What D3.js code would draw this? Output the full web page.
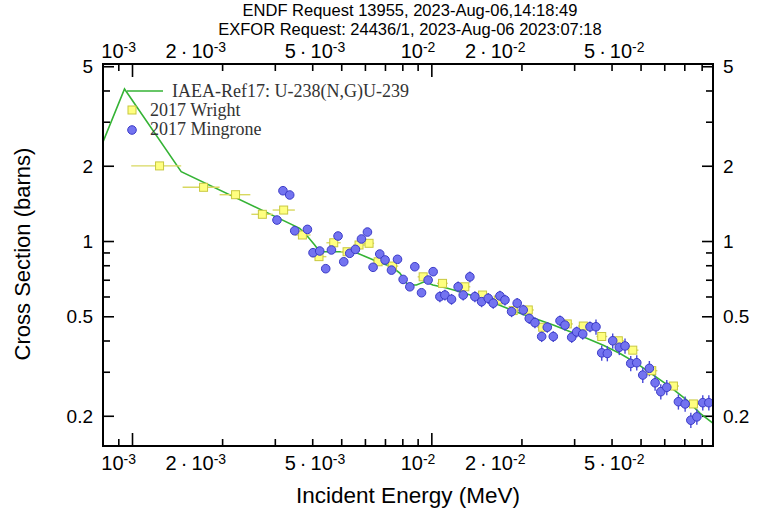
<!DOCTYPE html>
<html>
<head>
<meta charset="utf-8">
<script src="https://cdn.jsdelivr.net/npm/d3@7"></script>
<style>
body { margin: 0; background: #fff; }
svg { display: block; }
</style>
</head>
<body>
<svg id="chart" width="759" height="509"></svg>
<script>
// IAEA-Ref17 evaluation, U-238(n,g)
const refE = [8e-4, 9.44e-4, 1.46e-3, 3.633e-3, 3.824e-3, 4.077e-3, 4.237e-3, 4.637e-3, 5.204e-3, 5.62e-3, 6.07e-3, 6.62e-3, 7.36e-3, 7.85e-3, 8.345e-3, 8.92e-3, 9.51e-3, 1.012e-2, 1.124e-2, 1.245e-2, 1.53e-2, 1.977e-2, 2.555e-2, 3.304e-2, 3.755e-2, 4.27e-2, 4.856e-2, 5.52e-2, 6.28e-2, 7.14e-2, 7.91e-2, 8.74e-2]
const refS = [2.49, 4.057, 1.895, 1.124, 1.057, 0.964, 0.906, 0.906, 0.906, 0.898, 0.863, 0.826, 0.789, 0.744, 0.667, 0.667, 0.688, 0.667, 0.649, 0.627, 0.581, 0.514, 0.461, 0.408, 0.383, 0.355, 0.324, 0.291, 0.261, 0.231, 0.2045, 0.1864]

// 2017 Wright (energy, cross section, energy bin low/high)
const wrightE = [1.236e-3, 1.734e-3, 2.218e-3, 2.726e-3, 3.211e-3, 3.709e-3, 4.214e-3, 4.72e-3, 5.23e-3, 5.734e-3, 6.194e-3, 6.64e-3, 7.42e-3, 9.39e-3, 1.09e-2, 1.294e-2, 1.483e-2, 1.673e-2, 1.877e-2, 2.108e-2, 2.355e-2, 2.846e-2, 3.219e-2, 3.709e-2, 4.214e-2, 4.71e-2, 5.45e-2, 6.44e-2, 7.51e-2]
const wrightS = [1.997, 1.640, 1.532, 1.279, 1.330, 1.057, 0.866, 0.984, 0.906, 0.964, 0.979, 0.826, 0.794, 0.719, 0.677, 0.656, 0.608, 0.581, 0.527, 0.530, 0.452, 0.466, 0.457, 0.415, 0.399, 0.366, 0.303, 0.263, 0.223]
const wrightLo = [0.994e-3, 1.476e-3, 1.962e-3, 2.505e-3, 2.95e-3, 3.5e-3, 3.98e-3, 4.46e-3, 4.98e-3, 5.48e-3, 5.95e-3, 6.4e-3, 7.1e-3, 9.0e-3, 1.045e-2, 1.24e-2, 1.42e-2, 1.6e-2, 1.8e-2, 2.02e-2, 2.26e-2, 2.73e-2, 3.09e-2, 3.56e-2, 4.04e-2, 4.52e-2, 5.23e-2, 6.18e-2, 7.21e-2]
const wrightHi = [1.46e-3, 1.962e-3, 2.485e-3, 2.95e-3, 3.5e-3, 3.95e-3, 4.46e-3, 4.98e-3, 5.48e-3, 6.0e-3, 6.44e-3, 6.9e-3, 7.75e-3, 9.8e-3, 1.135e-2, 1.35e-2, 1.55e-2, 1.75e-2, 1.96e-2, 2.2e-2, 2.46e-2, 2.97e-2, 3.36e-2, 3.87e-2, 4.4e-2, 4.92e-2, 5.69e-2, 6.72e-2, 7.84e-2]

// 2017 Mingrone (energy, cross section, relative uncertainty)
const mingE = [3.05e-3, 3.194e-3, 3.364e-3, 3.496e-3, 3.855e-3, 4.025e-3, 4.237e-3, 4.438e-3, 4.637e-3, 4.879e-3, 5.098e-3, 5.338e-3, 5.578e-3, 5.842e-3, 6.117e-3, 6.388e-3, 6.725e-3, 7.005e-3, 7.36e-3, 7.709e-3, 8.05e-3, 8.475e-3, 8.807e-3, 9.273e-3, 9.757e-3, 1.014e-2,
    1.068e-2, 1.11e-2, 1.168e-2, 1.229e-2, 1.278e-2, 1.345e-2, 1.398e-2, 1.472e-2, 1.549e-2, 1.61e-2, 1.695e-2, 1.762e-2, 1.854e-2, 1.936e-2, 2.028e-2, 2.124e-2, 2.219e-2, 2.337e-2, 2.44e-2, 2.555e-2, 2.691e-2, 2.796e-2, 2.944e-2, 3.059e-2, 3.204e-2, 3.389e-2,
    3.549e-2, 3.709e-2, 3.873e-2, 4.036e-2, 4.246e-2, 4.437e-2, 4.636e-2, 4.856e-2, 5.086e-2, 5.351e-2, 5.592e-2, 5.843e-2, 6.118e-2, 6.69e-2, 7.046e-2, 7.362e-2, 7.71e-2, 8.07e-2, 8.455e-2]
const mingS = [1.213, 1.589, 1.528, 1.099, 1.113, 0.898, 0.912, 0.775, 0.921, 1.047, 0.826, 0.893, 0.926, 1.019, 1.086, 0.785, 0.887, 0.840, 0.765, 0.845, 0.702, 0.656, 0.789, 0.621, 0.698, 0.754,
    0.599, 0.608, 0.585, 0.656, 0.608, 0.719, 0.599, 0.572, 0.590, 0.564, 0.603, 0.581, 0.522, 0.564, 0.530, 0.490, 0.4715, 0.415, 0.452, 0.415, 0.480, 0.461, 0.412, 0.433, 0.4245, 0.454,
    0.454, 0.357, 0.355, 0.399, 0.376, 0.3805, 0.324, 0.326, 0.291, 0.3096, 0.271, 0.2497, 0.260, 0.2276, 0.223, 0.192, 0.198, 0.2256, 0.2256]
const mingErr = [0.03, 0.03, 0.03, 0.03, 0.03, 0.03, 0.03, 0.03, 0.03, 0.03, 0.03, 0.03, 0.03, 0.03, 0.03, 0.03, 0.03, 0.03, 0.03, 0.03, 0.03, 0.03, 0.03, 0.03, 0.03, 0.03,
    0.05, 0.05, 0.05, 0.05, 0.05, 0.05, 0.05, 0.05, 0.05, 0.05, 0.05, 0.05, 0.05, 0.05, 0.05, 0.05, 0.05, 0.05, 0.05, 0.05, 0.05, 0.05, 0.05, 0.05, 0.05, 0.05,
    0.07, 0.07, 0.07, 0.07, 0.07, 0.07, 0.07, 0.07, 0.07, 0.07, 0.07, 0.07, 0.07, 0.07, 0.07, 0.07, 0.07, 0.07, 0.07]

// axis ticks
const xDecades = [1e-3, 1e-2]
const xMinor = [9e-4, 2e-3, 3e-3, 4e-3, 5e-3, 6e-3, 7e-3, 8e-3, 9e-3, 2e-2, 3e-2, 4e-2, 5e-2, 6e-2, 7e-2, 8e-2]
const xLabels = [[1e-3, "10", "-3"], [2e-3, "2\u2009·\u200910", "-3"], [5e-3, "5\u2009·\u200910", "-3"], [1e-2, "10", "-2"], [2e-2, "2\u2009·\u200910", "-2"], [5e-2, "5\u2009·\u200910", "-2"]]
const yMajor = [0.2, 0.5, 1, 2, 5]
const yMinor = [0.3, 0.4, 0.6, 0.7, 0.8, 0.9, 3, 4]
const yLabels = ["0.2", "0.5", "1", "2", "5"]

const plotL = 103, plotR = 713, plotT = 64, plotB = 446
const green = "#35b335"
const sans = "'Liberation Sans', Arial, sans-serif"

const svg = d3.select("#chart")
const x = d3.scaleLog().domain([8e-4, 0.0873]).range([plotL, plotR])
const y = d3.scaleLog().domain([0.1514, 5.105]).range([plotB, plotT])

svg.append("clipPath").attr("id", "clip")
    .append("rect")
    .attr("x", plotL).attr("y", plotT)
    .attr("width", plotR - plotL).attr("height", plotB - plotT)

// titles
svg.append("text")
    .attr("x", 410).attr("y", 16)
    .attr("text-anchor", "middle")
    .style("font", "16.5px " + sans)
    .text("ENDF Request 13955, 2023-Aug-06,14:18:49")
svg.append("text")
    .attr("x", 410).attr("y", 35)
    .attr("text-anchor", "middle")
    .style("font", "16.5px " + sans)
    .text("EXFOR Request: 24436/1, 2023-Aug-06 2023:07:18")

// ticks on all four sides, pointing inward
svg.append("g").attr("transform", `translate(0,${plotB})`)
    .call(d3.axisBottom(x).tickValues(xMinor).tickSize(-7).tickFormat(""))
svg.append("g").attr("transform", `translate(0,${plotB})`)
    .call(d3.axisBottom(x).tickValues(xDecades).tickSize(-13).tickFormat(""))
svg.append("g").attr("transform", `translate(0,${plotT})`)
    .call(d3.axisTop(x).tickValues(xMinor).tickSize(-7).tickFormat(""))
svg.append("g").attr("transform", `translate(0,${plotT})`)
    .call(d3.axisTop(x).tickValues(xDecades).tickSize(-13).tickFormat(""))
svg.append("g").attr("transform", `translate(${plotL},0)`)
    .call(d3.axisLeft(y).tickValues(yMinor).tickSize(-7).tickFormat(""))
svg.append("g").attr("transform", `translate(${plotL},0)`)
    .call(d3.axisLeft(y).tickValues(yMajor).tickSize(-11).tickFormat(""))
svg.append("g").attr("transform", `translate(${plotR},0)`)
    .call(d3.axisRight(y).tickValues(yMinor).tickSize(-7).tickFormat(""))
svg.append("g").attr("transform", `translate(${plotR},0)`)
    .call(d3.axisRight(y).tickValues(yMajor).tickSize(-11).tickFormat(""))
svg.selectAll(".domain").remove()
svg.selectAll(".tick line").attr("stroke", "#000").attr("stroke-width", 1.6)

// x tick labels, top and bottom: "2·10^-3" style
for (const yy of [58, 470]) {
    const t = svg.append("g").selectAll("text")
        .data(xLabels)
        .enter()
        .append("text")
        .attr("x", d => x(d[0]) + 4)
        .attr("y", yy)
        .attr("text-anchor", "end")
        .style("font", "20px " + sans)
    t.append("tspan").text(d => d[1])
    t.append("tspan").attr("dy", -6).style("font-size", "14px").text(d => d[2])
}

// y tick labels, left and right
svg.append("g").selectAll("text")
    .data(yMajor)
    .enter()
    .append("text")
    .attr("x", 93)
    .attr("y", d => y(d) + 7)
    .attr("text-anchor", "end")
    .style("font", "19px " + sans)
    .text((d, i) => yLabels[i])
svg.append("g").selectAll("text")
    .data(yMajor)
    .enter()
    .append("text")
    .attr("x", 723)
    .attr("y", d => y(d) + 7)
    .style("font", "19px " + sans)
    .text((d, i) => yLabels[i])

// axis titles
svg.append("text")
    .attr("x", 408).attr("y", 503)
    .attr("text-anchor", "middle")
    .style("font", "22.5px " + sans)
    .text("Incident Energy (MeV)")
svg.append("text")
    .attr("transform", "translate(30,254) rotate(-90)")
    .attr("text-anchor", "middle")
    .style("font", "22px " + sans)
    .text("Cross Section (barns)")

const plot = svg.append("g").attr("clip-path", "url(#clip)")

// evaluation curve
const refData = refE.map((e, i) => [e, refS[i]])
plot.append("path")
    .datum(refData)
    .attr("fill", "none")
    .attr("stroke", green)
    .attr("stroke-width", 1.6)
    .attr("d", d3.line().x(d => x(d[0])).y(d => y(d[1])))

// Wright: horizontal error bars + yellow squares
const wright = wrightE.map((e, i) => ({ e: e, s: wrightS[i], lo: wrightLo[i], hi: wrightHi[i] }))
plot.selectAll("line.werr")
    .data(wright)
    .enter()
    .append("line")
    .attr("class", "werr")
    .attr("x1", d => x(d.lo)).attr("x2", d => x(d.hi))
    .attr("y1", d => y(d.s)).attr("y2", d => y(d.s))
    .attr("stroke", "#d8d860")
    .attr("stroke-width", 1.4)

// Mingrone: vertical error bars + blue circles
const ming = mingE.map((e, i) => ({ e: e, s: mingS[i], err: mingErr[i] }))
plot.selectAll("line.merr")
    .data(ming)
    .enter()
    .append("line")
    .attr("class", "merr")
    .attr("x1", d => x(d.e)).attr("x2", d => x(d.e))
    .attr("y1", d => y(d.s * (1 - d.err))).attr("y2", d => y(d.s * (1 + d.err)))
    .attr("stroke", "#4848d8")
    .attr("stroke-width", 1.4)

plot.selectAll("rect.wr")
    .data(wright)
    .enter()
    .append("rect")
    .attr("class", "wr")
    .attr("x", d => x(d.e) - 4).attr("y", d => y(d.s) - 4)
    .attr("width", 8).attr("height", 8)
    .attr("fill", "#ffff80")
    .attr("stroke", "#c8c840")
    .attr("stroke-width", 1)

plot.selectAll("circle")
    .data(ming)
    .enter()
    .append("circle")
    .attr("cx", d => x(d.e)).attr("cy", d => y(d.s))
    .attr("r", 4.3)
    .attr("fill", "#7373f0")
    .attr("stroke", "#3b3bc8")
    .attr("stroke-width", 1)

// legend
svg.append("line")
    .attr("x1", 127).attr("x2", 163)
    .attr("y1", 91).attr("y2", 91)
    .attr("stroke", green).attr("stroke-width", 1.6)
svg.append("rect")
    .attr("x", 128).attr("y", 106).attr("width", 8).attr("height", 8)
    .attr("fill", "#ffff80").attr("stroke", "#c8c840")
svg.append("circle")
    .attr("cx", 132).attr("cy", 130).attr("r", 4.3)
    .attr("fill", "#7373f0").attr("stroke", "#3b3bc8")
const legendText = [["IAEA-Ref17: U-238(N,G)U-239", 172, 97], ["2017 Wright", 150, 116], ["2017 Mingrone", 150, 135]]
svg.append("g").selectAll("text")
    .data(legendText)
    .enter()
    .append("text")
    .attr("x", d => d[1]).attr("y", d => d[2])
    .style("font", "18px 'Liberation Serif', 'Times New Roman', serif")
    .attr("fill", "#333")
    .text(d => d[0])

// frame
svg.append("rect")
    .attr("x", plotL).attr("y", plotT)
    .attr("width", plotR - plotL).attr("height", plotB - plotT)
    .attr("fill", "none")
    .attr("stroke", "#000")
    .attr("stroke-width", 2)
</script>
</body>
</html>
